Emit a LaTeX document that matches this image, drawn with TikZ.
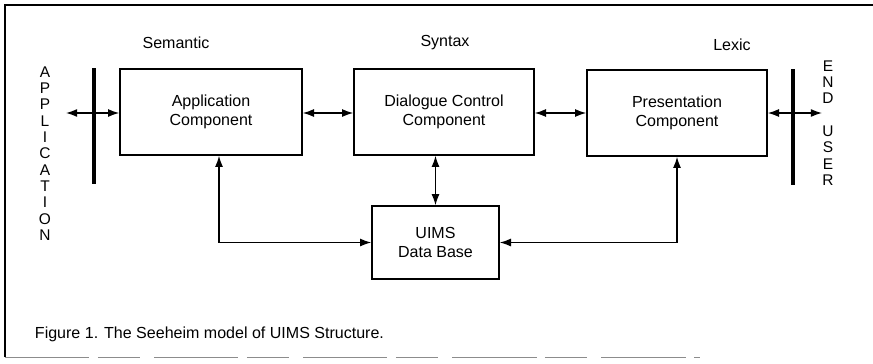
\documentclass[tikz,border=0pt]{standalone}
\usepackage{fontspec}
\setmainfont{Liberation Sans}
\usetikzlibrary{arrows.meta}

\tikzset{
  comp/.style={draw, line width=1.1pt, align=center, inner sep=0pt, font=\fontsize{11.4}{13.5}\selectfont},
  link/.style={line width=0.9pt, {Latex[length=2.8mm,width=2mm]}-{Latex[length=2.8mm,width=2mm]}},
  level/.style={font=\fontsize{11.4}{13.5}\selectfont},
  stack/.style={align=center, inner sep=0pt, font=\fontsize{11}{11.6}\selectfont},
  bar/.style={line width=2.8pt}
}

\begin{document}
\begin{tikzpicture}[x=0.025cm, y=-0.025cm]
\useasboundingbox (0,0) rectangle (873,363);
\draw[line width=1pt] (5,357) -- (5,5) -- (873,5);
\draw[black!45, line width=0.6pt, dash pattern=on 60pt off 6pt on 30pt off 10pt] (5,357) -- (700,357);

\node[comp, minimum width=4.55cm, minimum height=2.15cm] (app) at (211,112) {Application\\Component};
\node[comp, minimum width=4.5cm, minimum height=2.15cm] (dlg) at (444,112) {Dialogue Control\\Component};
\node[comp, minimum width=4.5cm, minimum height=2.15cm] (pres) at (677,113) {Presentation\\Component};
\node[comp, minimum width=3.175cm, minimum height=1.825cm] (db) at (435.5,242.5) {UIMS\\Data Base};

\node[level] (sem) at (176,43) {Semantic};
\node[level] (syn) at (445,43) {Syntax};
\node[level] (lex) at (732,45) {Lexic};

\node[stack] (appl) at (45,153.5) {A\\P\\P\\L\\I\\C\\A\\T\\I\\O\\N};
\node[stack] (user) at (828,123) {E\\N\\D\\\mbox{}\\U\\S\\E\\R};

\coordinate (lt) at (66,113);
\coordinate (rt) at (822,113);
\draw[bar] (94,68) -- (94,184);
\draw[bar] (793,69) -- (793,185);

\draw[link] (lt) -- (lt -| app.west);
\draw[link] (pres.east |- rt) -- (rt);
\draw[link] (app.east |- lt) -- (dlg.west |- lt);
\draw[link] (dlg.east |- lt) -- (pres.west |- lt);
\draw[link] (dlg.south -| db.north) -- (db.north);
\draw[link] ([xshift=0.2cm]app.south) |- (db.west);
\draw[link] (pres.south) |- (db.east);

\node[level, anchor=west] (cap) at (30,334) {Figure 1. The Seeheim model of UIMS Structure.};
\end{tikzpicture}
\end{document}
